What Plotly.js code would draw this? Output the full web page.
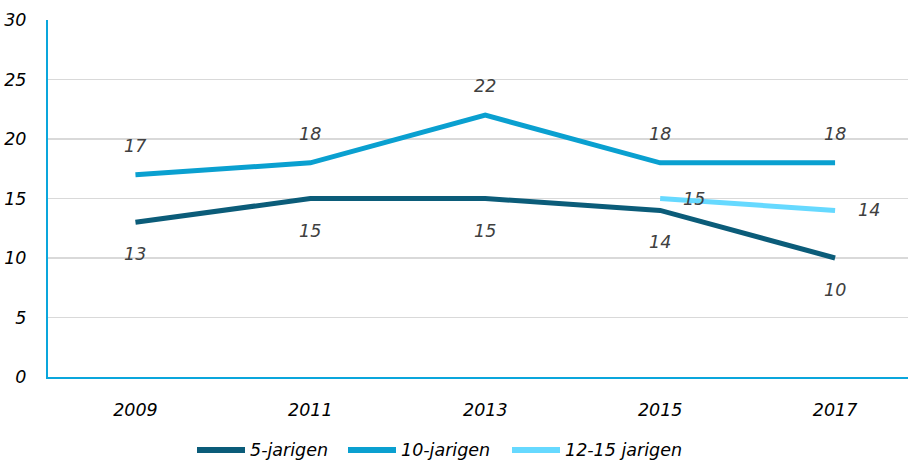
<!DOCTYPE html>
<html>
<head>
<meta charset="utf-8">
<script src="https://cdn.plot.ly/plotly-3.0.1.min.js"></script>
<style>html,body{margin:0;padding:0;background:#fff;}#chart{width:908px;height:463px;}</style>
</head>
<body>
<div id="chart"></div>
<script>
const years = ["2009", "2011", "2013", "2015", "2017"];
const fiveYear = [13, 15, 15, 14, 10];
const tenYear = [17, 18, 22, 18, 18];
const twelveFifteen = [null, null, null, 15, 14];
const seriesNames = ["5-jarigen", "10-jarigen", "12-15 jarigen"];
const yTicks = [0, 5, 10, 15, 20, 25, 30];

const font = "DejaVu Sans, Verdana, sans-serif";
const colors = ["#0b5c79", "#0aa0d0", "#66d9ff"];
const xIdx = years.map((_, i) => i);
const fs = 17.5;

const W = 908, H = 463;
const M = {l: 48, r: 0, t: 20, b: 86};
const plotW = W - M.l - M.r, plotH = H - M.t - M.b;
const px2x = p => (p - M.l) / plotW;
const py2y = p => (H - M.b - p) / plotH;

const seriesData = [fiveYear, tenYear, twelveFifteen];
const traces = seriesData.map((ys, k) => ({
  x: xIdx, y: ys, name: seriesNames[k], mode: "lines",
  line: {color: colors[k], width: 5}, connectgaps: false, hoverinfo: "skip", showlegend: false
}));

const annFont = {family: font, size: fs, color: "#404040"};
const annotations = [];
fiveYear.forEach((v, i) => annotations.push({x: i, y: v, text: "<i>" + v + "</i>", showarrow: false, yshift: -32, font: annFont}));
tenYear.forEach((v, i) => annotations.push({x: i, y: v, text: "<i>" + v + "</i>", showarrow: false, yshift: 29, font: annFont}));
twelveFifteen.forEach((v, i) => { if (v !== null) annotations.push({x: i, y: v, text: "<i>" + v + "</i>", showarrow: false, xshift: 34, yshift: 0, font: annFont}); });

// custom legend (symbol lines 48px long, like the reference)
const legendStarts = [197, 348, 512];
const legendY = py2y(450);
const shapes = [];
seriesNames.forEach((n, k) => {
  const x0 = legendStarts[k];
  shapes.push({type: "line", xref: "paper", yref: "paper", x0: px2x(x0), x1: px2x(x0 + 48), y0: legendY, y1: legendY,
               line: {color: colors[k], width: 6}, layer: "above"});
  annotations.push({xref: "paper", yref: "paper", x: px2x(x0 + 51), y: legendY, xanchor: "left", yanchor: "middle",
                    text: "<i>" + n + "</i>", showarrow: false, font: {family: font, size: fs, color: "#000"}});
});

const layout = {
  width: W, height: H,
  margin: Object.assign({autoexpand: false}, M),
  paper_bgcolor: "#fff", plot_bgcolor: "#fff",
  font: {family: font, size: fs, color: "#000"},
  showlegend: false,
  xaxis: {
    range: [-0.5, 4.417], tickmode: "array", tickvals: xIdx, ticktext: years.map(y => "<i>" + y + "</i>"),
    showgrid: false, zeroline: false, showline: true, linecolor: "#0aa6dc", linewidth: 2,
    ticks: "", ticklabelstandoff: 16, tickfont: {family: font, size: fs, color: "#000"}, fixedrange: true
  },
  yaxis: {
    range: [0, 30], tickmode: "array", tickvals: yTicks, ticktext: yTicks.map(v => "<i>" + v + "</i>"),
    showgrid: true, gridcolor: "#d9d9d9", gridwidth: 1.5, zeroline: false,
    showline: true, linecolor: "#0aa6dc", linewidth: 2,
    ticks: "", ticklabelstandoff: 16, tickfont: {family: font, size: fs, color: "#000"}, fixedrange: true
  },
  shapes: shapes,
  annotations: annotations
};

Plotly.newPlot("chart", traces, layout, {staticPlot: true, displayModeBar: false});
</script>
</body>
</html>
